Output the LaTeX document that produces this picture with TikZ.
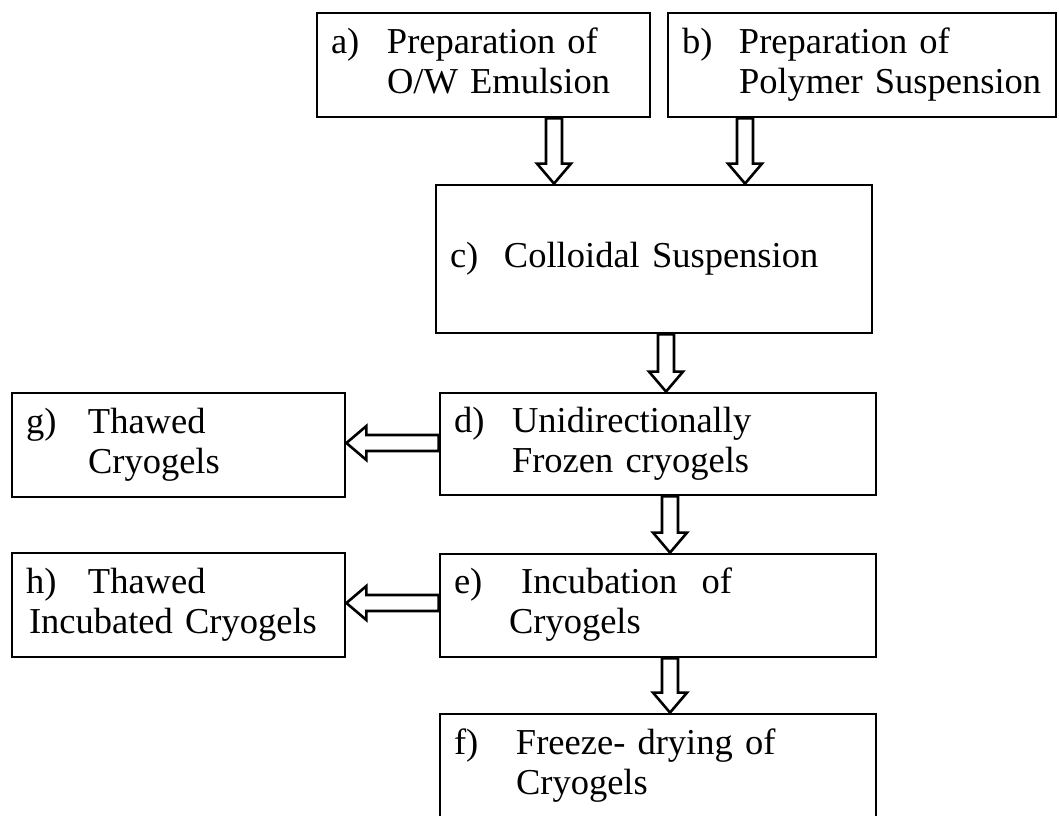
\documentclass[tikz,border=0pt]{standalone}
\usepackage{fontspec}
\setmainfont{Liberation Serif}
\usetikzlibrary{positioning,calc}

\begin{document}
\begin{tikzpicture}[x=1pt,y=-1pt,
  font=\fontsize{36.5}{40}\selectfont,
  box/.style={draw, line width=2.8pt, inner xsep=14pt, inner ysep=0pt, align=left},
  hollow/.style={draw, fill=white, line width=2.6pt, to path={
    -- ($(\tikztostart)!8pt!90:(\tikztotarget)$)
    -- ($(\tikztotarget)!20pt!(\tikztostart)!8pt!90:(\tikztotarget)$)
    -- ($(\tikztotarget)!20pt!(\tikztostart)!17pt!90:(\tikztotarget)$)
    -- (\tikztotarget)
    -- ($(\tikztotarget)!20pt!(\tikztostart)!17pt!-90:(\tikztotarget)$)
    -- ($(\tikztotarget)!20pt!(\tikztostart)!8pt!-90:(\tikztotarget)$)
    -- ($(\tikztostart)!8pt!-90:(\tikztotarget)$)
    -- cycle}}]
  \useasboundingbox (0,0) rectangle (1059,815);

  % top row
  \node[box, text width=305pt, minimum height=104pt] (a) at (483.5,65)
    {\begin{tabular}{@{}p{56pt}@{}l@{}} a) & Preparation of\\ & O/W Emulsion\end{tabular}};
  \node[box, text width=360pt, minimum height=104pt] (b) at (862,65)
    {\begin{tabular}{@{}p{57pt}@{}l@{}} b) & Preparation of\\ & Polymer Suspension\end{tabular}};

  % main column
  \node[box, text width=408pt, minimum height=148pt] (c) at (654,259)
    {\begin{tabular}{@{}p{54pt}@{}l@{}} c) & Colloidal Suspension\end{tabular}};
  \node[box, text width=408pt, minimum height=102pt] (d) at (658,444)
    {\begin{tabular}{@{}p{58pt}@{}l@{}} d) & Unidirectionally\\ & Frozen cryogels\end{tabular}};
  \node[box, text width=408pt, minimum height=103pt] (e) at (658,605.5)
    {\begin{tabular}{@{}p{55pt}@{}l@{}} e) & \ Incubation\ \ of\\ & Cryogels\end{tabular}};
  \node[box, text width=408pt, minimum height=104pt] (f) at (658,766)
    {\begin{tabular}{@{}p{62pt}@{}l@{}} f) & Freeze- drying of\\ & Cryogels\end{tabular}};

  % side boxes
  \node[box, text width=305pt, minimum height=104pt] (g) at (178.5,445)
    {\begin{tabular}{@{}p{62pt}@{}l@{}} g) & Thawed\\ & Cryogels\end{tabular}};
  \node[box, text width=305pt, minimum height=104pt] (h) at (178.5,605)
    {\begin{tabular}{@{}p{62pt}@{}l@{}} h) & Thawed\\ \multicolumn{2}{@{}l@{}}{\hspace*{3pt}Incubated Cryogels}\end{tabular}};

  % arrow ends
  \coordinate (ac1) at ([xshift=70.5pt]a.south);
  \coordinate (ac2) at (ac1 |- c.north);
  \coordinate (bc1) at ([xshift=-117pt]b.south);
  \coordinate (bc2) at (bc1 |- c.north);
  \coordinate (cd1) at ([xshift=12pt]c.south);
  \coordinate (cd2) at (cd1 |- d.north);
  \coordinate (de1) at ([xshift=12pt]d.south);
  \coordinate (de2) at (de1 |- e.north);
  \coordinate (ef1) at ([xshift=12pt]e.south);
  \coordinate (ef2) at (ef1 |- f.north);
  \coordinate (dg1) at ([yshift=1pt]d.west);
  \coordinate (dg2) at (dg1 -| g.east);
  \coordinate (eh1) at ([yshift=2.5pt]e.west);
  \coordinate (eh2) at (eh1 -| h.east);

  % hollow block arrows
  \draw[hollow] (ac1) to (ac2);
  \draw[hollow] (bc1) to (bc2);
  \draw[hollow] (cd1) to (cd2);
  \draw[hollow] (de1) to (de2);
  \draw[hollow] (ef1) to (ef2);
  \draw[hollow] (dg1) to (dg2);
  \draw[hollow] (eh1) to (eh2);
\end{tikzpicture}
\end{document}
